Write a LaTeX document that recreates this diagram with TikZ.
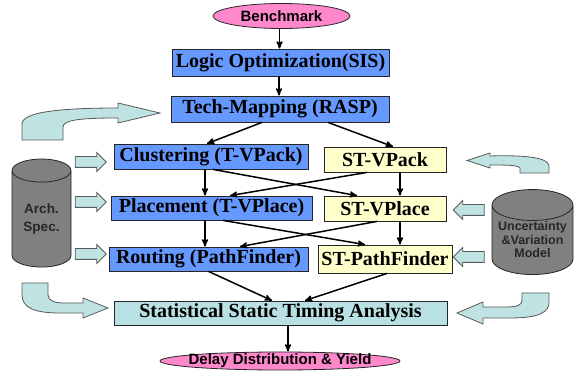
\documentclass[tikz,border=0pt]{standalone}
\usepackage{fontspec}
\setmainfont{Liberation Serif}
\setsansfont{Liberation Sans}
\usepackage{tikz}
\usetikzlibrary{arrows,shapes.geometric,shapes.arrows}
\definecolor{stepblue}{HTML}{6699FF}
\definecolor{stepyellow}{HTML}{FFFFCC}
\definecolor{stateal}{HTML}{B9E0E2}
\definecolor{endpink}{HTML}{FF88CC}
\definecolor{feedcyan}{HTML}{BFE3E3}
\tikzset{
    %Define standard arrow tip
    >=stealth',
    %Define style for boxes
    tool/.style={
           rectangle,
           draw=black!85, line width=0.8pt,
           inner sep=0pt,
           font=\fontsize{20}{24}\selectfont\bfseries,
           text centered,
           fill=stepblue},
    sttool/.style={
           tool,
           fill=stepyellow},
    sstabox/.style={
           tool,
           fill=stateal},
    io/.style={
           ellipse,
           draw=black!85, line width=0.8pt,
           inner sep=-12pt,
           font=\fontsize{15}{18}\selectfont\sffamily\bfseries,
           fill=endpink},
    store/.style={
           cylinder,
           shape border rotate=90,
           draw=black!85, line width=0.8pt,
           cylinder uses custom fill,
           cylinder body fill=black!50,
           cylinder end fill=black!50,
           inner sep=0pt,
           text=black!85,
           align=center},
    feed/.style={
           single arrow,
           draw=black!65, line width=0.8pt,
           fill=feedcyan,
           inner sep=0pt,
           text height=5pt, text depth=5pt,
           minimum height=31pt,
           single arrow head extend=4pt},
    uturn/.style={
           draw=black!65, line width=0.8pt,
           fill=feedcyan},
    % Define arrow style
    pil/.style={
           ->,
           line width=1.5pt}
}
\begin{document}
\begin{tikzpicture}[x=1pt,y=-1pt]
\useasboundingbox (0,0) rectangle (574,371);
% main flow
\node[io, minimum width=137pt, minimum height=25pt] (bench) at (281.5,16) {Benchmark};
\node[tool, minimum width=217pt, minimum height=27pt] (logic) at (280.5,62.5) {Logic Optimization(SIS)};
\node[tool, minimum width=218pt, minimum height=26pt] (tech) at (280,109) {Tech-Mapping (RASP)};
\node[tool, minimum width=194pt, minimum height=25pt] (clus) at (211,156.5) {Clustering (T-VPack)};
\node[sttool, minimum width=122pt, minimum height=25pt] (stpack) at (385,159.5) {ST-VPack};
\node[tool, minimum width=201pt, minimum height=24pt] (place) at (211.5,208) {Placement (T-VPlace)};
\node[sttool, minimum width=122pt, minimum height=25pt] (stplace) at (385,208.5) {ST-VPlace};
\node[tool, minimum width=199pt, minimum height=24pt] (route) at (208.5,259) {Routing (PathFinder)};
\node[sttool, minimum width=134pt, minimum height=28pt] (stpath) at (385,259) {ST-PathFinder};
\node[sstabox, minimum width=333pt, minimum height=24pt] (ssta) at (280.5,313) {Statistical Static Timing Analysis};
\node[io, minimum width=240pt, minimum height=18pt] (delay) at (280,361) {Delay Distribution \& Yield};

% models
\node[store, minimum width=59pt, minimum height=108pt, aspect=0.64,
      font=\fontsize{13.5}{13.5}\selectfont\sffamily\bfseries] (arch) at (41.5,219) {Arch.\\[4pt]Spec.};
\node[store, minimum width=81pt, minimum height=85pt, aspect=0.45,
      font=\fontsize{12.5}{13.5}\selectfont\sffamily\bfseries] (model) at (532.5,240) {Uncertainty\\\&Variation\\Model};

\node[feed] (archclus) at (88,162) {};
\node[feed] (archplace) at (88,202) {};
\node[feed] (archroute) at (88,254) {};
\node[feed, shape border rotate=180] (modelplace) at (471.5,210) {};
\node[feed, shape border rotate=180] (modelpath) at (471.5,257) {};

% bent feed arrows
\draw[uturn] (22,140) -- (22,124) .. controls (22,112) and (60,108) .. (118,108)
   -- (118,103) -- (160,113) -- (118,123) -- (118,118)
   .. controls (80,118) and (63,120) .. (63,127) -- (63,140) -- cycle;
\draw[uturn] (549,173) -- (520,173) -- (520,168) .. controls (518,165) and (505,165) .. (490,165)
   -- (490,168) -- (467,160.5) -- (490,153) -- (490,156)
   .. controls (522,155) and (549,157) .. (549,166) -- cycle;
\draw[uturn] (22,283) -- (48,283) -- (48,295) .. controls (48,301) and (55,303) .. (65,303)
   -- (83,303) -- (83,298) -- (108,308) -- (83,318) -- (83,313) -- (60,313)
   .. controls (35,313) and (22,308) .. (22,295) -- cycle;
\draw[uturn] (549,293) -- (522,293) -- (522,300) .. controls (522,305) and (518,307) .. (505,307)
   -- (483,307) -- (483,302) -- (457,313) -- (483,324) -- (483,318) -- (510,318)
   .. controls (540,318) and (549,312) .. (549,302) -- cycle;

% connectors
\draw[pil] ([xshift=-2pt]bench.south) -- ([xshift=-1pt]logic.north);
\draw[pil] ([xshift=-1.5pt]logic.south) -- ([xshift=-1pt]tech.north);
\draw[pil] ([xshift=-18pt]tech.south) -- ([xshift=-4pt]clus.north);
\draw[pil] ([xshift=48pt]tech.south) -- ([xshift=8pt]stpack.north);
\draw[pil] ([xshift=-6pt]clus.south) -- ([xshift=-6.5pt]place.north);
\draw[pil] ([xshift=2pt]clus.south) -- ([xshift=-28pt]stplace.north);
\draw[pil] ([xshift=-18pt]stpack.south) -- ([xshift=18.5pt]place.north);
\draw[pil] ([xshift=15pt]stpack.south) -- ([xshift=15pt]stplace.north);
\draw[pil] ([xshift=-6.5pt]place.south) -- ([xshift=-3.5pt]route.north);
\draw[pil] ([xshift=11.5pt]place.south) -- ([xshift=-20pt]stpath.north);
\draw[pil] ([xshift=-8pt]stplace.south) -- ([xshift=31.5pt]route.north);
\draw[pil] ([xshift=15pt]stplace.south) -- ([xshift=15pt]stpath.north);
\draw[pil] (route.south) -- ([xshift=-8.5pt]ssta.north);
\draw[pil] ([xshift=2pt]stpath.south) -- ([xshift=24.5pt]ssta.north);
\draw[pil] ([xshift=7.5pt]ssta.south) -- ([xshift=8pt]delay.north);
\end{tikzpicture}
\end{document}
